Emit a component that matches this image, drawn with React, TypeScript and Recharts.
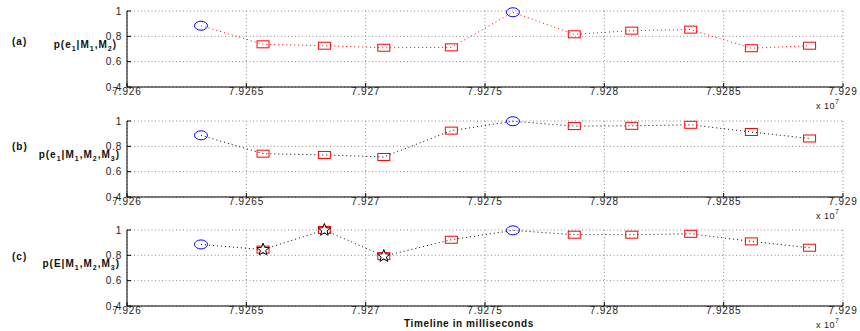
import { LineChart, Line, XAxis, YAxis, CartesianGrid } from "recharts"

// timestamps (ms) of the 11 decision points
const times = [79263100, 79265700, 79268270, 79270760, 79273590, 79276170, 79278740, 79281150, 79283620, 79286160, 79288600]

const probA = [0.884, 0.737, 0.726, 0.71, 0.713, 0.99, 0.816, 0.845, 0.853, 0.706, 0.726]
const probB = [0.887, 0.742, 0.732, 0.716, 0.924, 0.998, 0.96, 0.962, 0.97, 0.913, 0.862]
const probC = [0.886, 0.845, 1.0, 0.794, 0.923, 0.997, 0.963, 0.963, 0.97, 0.91, 0.86]

const markersA = ["o", "s", "s", "s", "s", "o", "s", "s", "s", "s", "s"]
const markersB = ["o", "s", "s", "s", "s", "o", "s", "s", "s", "s", "s"]
const markersC = ["o", "*", "*", "*", "s", "o", "s", "s", "s", "s", "s"]

const xTicks = [79260000, 79265000, 79270000, 79275000, 79280000, 79285000, 79290000]
const yTicks = [0.4, 0.6, 0.8, 1]

// y labels: [text, subscript?]
const labelA: [string, boolean][] = [["p(e", false], ["1", true], ["|M", false], ["1", true], [",M", false], ["2", true], [")", false]]
const labelB: [string, boolean][] = [["p(e", false], ["1", true], ["|M", false], ["1", true], [",M", false], ["2", true], [",M", false], ["3", true], [")", false]]
const labelC: [string, boolean][] = [["p(E|M", false], ["1", true], [",M", false], ["2", true], [",M", false], ["3", true], [")", false]]

const FONT = "'Liberation Sans', Arial, sans-serif"
const tickStyle = { fontFamily: FONT, fontSize: 10, fill: "#222", letterSpacing: 0.8 }

function starPath(cx: number, cy: number, r1: number, r2: number) {
  let d = ""
  for (let i = 0; i < 10; i++) {
    const r = i % 2 === 0 ? r1 : r2
    const a = -Math.PI / 2 + (i * Math.PI) / 5
    d += (i === 0 ? "M" : "L") + (cx + r * Math.cos(a)).toFixed(2) + "," + (cy + r * Math.sin(a)).toFixed(2)
  }
  return d + "Z"
}

function renderMarker(props: any) {
  const { cx, cy, payload, index } = props
  const k = payload.m
  if (k === "o") {
    return <ellipse key={index} cx={cx} cy={cy} rx={6.5} ry={4.5} fill="none" stroke="#0000ff" strokeWidth={1} />
  }
  if (k === "*") {
    return (
      <g key={index}>
        <rect x={cx - 6} y={cy - 3.5} width={12} height={7} fill="none" stroke="#ff0000" strokeWidth={1} />
        <path d={starPath(cx, cy, 6.5, 2.8)} fill="#fff" stroke="#000" strokeWidth={1} />
      </g>
    )
  }
  return <rect key={index} x={cx - 6} y={cy - 3.5} width={12} height={7} fill="none" stroke="#ff0000" strokeWidth={1} />
}

const fmtX = (v: number) => parseFloat((v / 1e7).toFixed(5)).toString()
const fmtY = (v: number) => (v === 1 ? "1" : v.toFixed(1))

function labelSpans(parts: [string, boolean][]) {
  let prevSub = false
  return parts.map(([s, isSub], i) => {
    const dy = isSub ? 3 : prevSub ? -3 : 0
    prevSub = isSub
    return (
      <tspan key={i} dy={dy} fontSize={isSub ? 7 : 10}>
        {s}
      </tspan>
    )
  })
}

function Panel({ values, markers, color, tag, ylabel, tagDy, labelRight, height, top, bottom, xTitle }: any) {
  const data = times.map((t, i) => ({ t, p: values[i], m: markers[i] }))
  return (
    <LineChart width={860} height={height} data={data} margin={{ top, right: 17, left: 0, bottom: 0 }}>
      <CartesianGrid stroke="#8a8a8a" strokeDasharray="1 2.5" />
      <XAxis
        dataKey="t"
        type="number"
        domain={[79260000, 79290000]}
        ticks={xTicks}
        tickFormatter={fmtX}
        height={bottom}
        tick={tickStyle}
        tickSize={-4}
        tickMargin={5}
        stroke="#000"
        tickLine={{ stroke: "#000" }}
        axisLine={{ stroke: "#000" }}
        label={{
          content: (p: any) => {
            const vb = p.viewBox
            return (
              <g style={{ fontFamily: FONT }}>
                <text x={816} y={vb.y + 22} fontSize={9} fill="#222" letterSpacing={0.5}>
                  x 10<tspan dy={-5} fontSize={7}>7</tspan>
                </text>
                {xTitle && (
                  <text x={469} y={vb.y + 21} textAnchor="middle" fontSize={10} fontWeight="bold" fill="#111" letterSpacing={0.6}>
                    {xTitle}
                  </text>
                )}
              </g>
            )
          },
        }}
      />
      <XAxis
        xAxisId="top"
        orientation="top"
        type="number"
        domain={[79260000, 79290000]}
        ticks={xTicks}
        height={0}
        tick={false}
        tickSize={-4}
        axisLine={{ stroke: "#000" }}
        tickLine={{ stroke: "#000" }}
      />
      <YAxis
        type="number"
        domain={[0.4, 1]}
        ticks={yTicks}
        tickFormatter={fmtY}
        width={127}
        tick={tickStyle}
        tickSize={-4}
        tickMargin={9}
        axisLine={{ stroke: "#000" }}
        tickLine={{ stroke: "#000" }}
        label={{
          content: (p: any) => {
            const vb = p.viewBox
            return (
              <g style={{ fontFamily: FONT }} fontWeight="bold" fill="#111" letterSpacing={1}>
                <text x={12} y={vb.y + tagDy} fontSize={10}>{tag}</text>
                <text x={labelRight} y={vb.y + 37} fontSize={10} textAnchor="end">
                  {labelSpans(ylabel)}
                </text>
              </g>
            )
          },
        }}
      />
      <YAxis
        yAxisId="right"
        orientation="right"
        type="number"
        domain={[0.4, 1]}
        ticks={yTicks}
        width={0}
        tick={false}
        tickSize={-4}
        axisLine={{ stroke: "#000" }}
        tickLine={{ stroke: "#000" }}
      />
      <Line
        dataKey="p"
        stroke={color}
        strokeWidth={1}
        strokeDasharray="1 3"
        dot={renderMarker}
        activeDot={false}
        isAnimationActive={false}
      />
    </LineChart>
  )
}

export default function App() {
  return (
    <div style={{ position: "absolute", left: 0, top: 0, width: 860, height: 331, background: "#fff" }}>
      <Panel values={probA} markers={markersA} color="#ff0000" tag="(a)" tagDy={34} labelRight={117}
        ylabel={labelA} height={110} top={11} bottom={23} />
      <Panel values={probB} markers={markersB} color="#000" tag="(b)" tagDy={29} labelRight={120}
        ylabel={labelB} height={110} top={11} bottom={23} />
      <Panel values={probC} markers={markersC} color="#000" tag="(c)" tagDy={30} labelRight={120}
        ylabel={labelC} height={111} top={10} bottom={25} xTitle="Timeline in milliseconds" />
    </div>
  )
}
